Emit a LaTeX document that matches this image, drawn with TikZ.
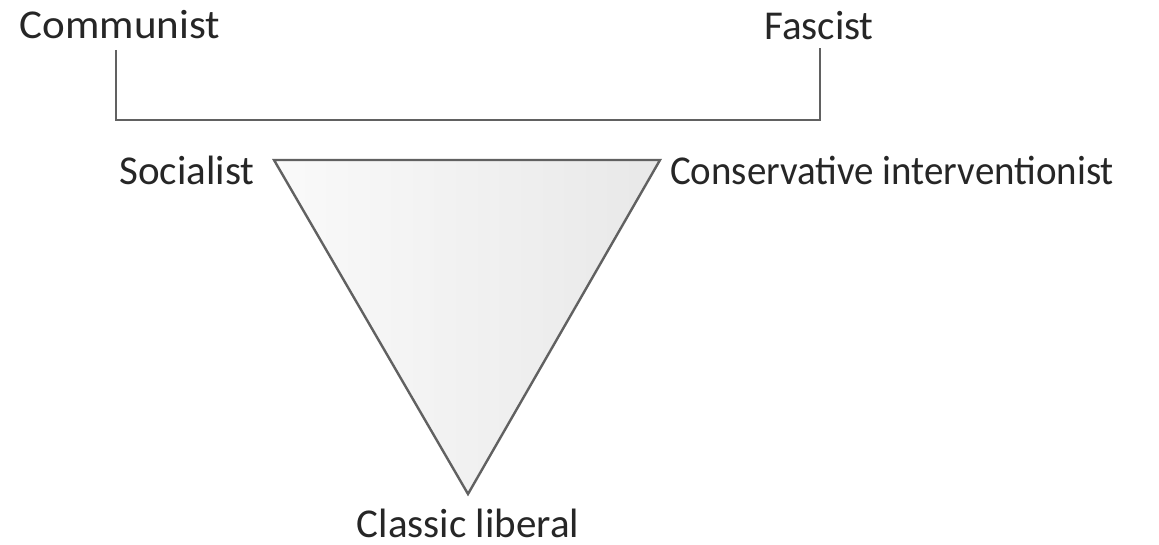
\documentclass[tikz,border=0pt]{standalone}
\usepackage{fontspec}
\setmainfont{Carlito}
\begin{document}
\begin{tikzpicture}[x=1pt,y=-1pt,
  lbl/.style={anchor=base,inner sep=0pt,text=black!85,font=\fontsize{41}{48}\selectfont},
  line/.style={draw=black!62,line width=2.4pt,line join=miter}]
\useasboundingbox (0,0) rectangle (1159,545);
\node[lbl] (comm) at (120,39) {\scalebox{1.05}[1]{Communist}};
\node[lbl] (fasc) at (819,40) {Fascist};
\node[lbl] (soc) at (187,185) {Socialist};
\node[lbl] (cons) at (892,185) {\scalebox{0.95}[1]{Conservative interventionist}};
\node[lbl] (lib) at (468,537) {Classic liberal};
\coordinate (bl) at (116,50);
\coordinate (br) at (820,48);
\coordinate (bbl) at (116,120);
\coordinate (bbr) at (820,120);
\draw[line] (bl) -- (bbl) -- (bbr) -- (br);
\coordinate (A) at (274,160);
\coordinate (B) at (660,160);
\coordinate (C) at (468,494);
\shade[left color=white!98!black,right color=black!9] (A) -- (B) -- (C) -- cycle;
\draw[line] (A) -- (B) -- (C) -- cycle;
\end{tikzpicture}
\end{document}
